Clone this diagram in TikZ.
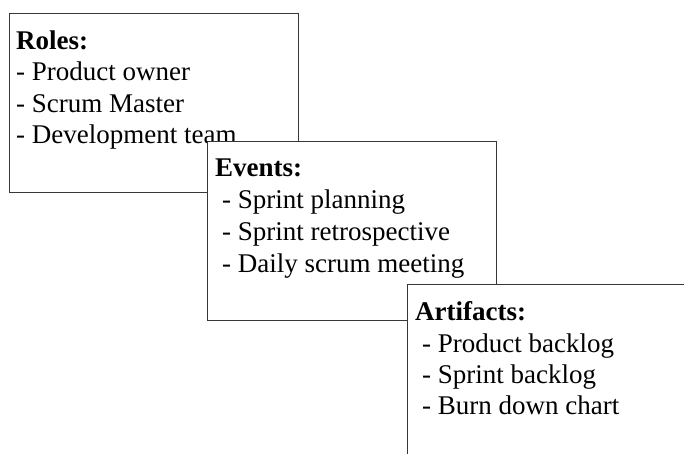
\documentclass[tikz,border=0pt]{standalone}
\usepackage{fontspec}
\setmainfont{Liberation Serif}
\usepackage{xcolor}
\definecolor{frame_gray}{RGB}{55,55,55}
\tikzset{
  card/.style={draw=frame_gray, line width=1.3pt, fill=white, anchor=north west,
    minimum width=289pt, minimum height=179pt, inner sep=0pt},
  head/.style={anchor=base west, inner sep=0pt, font=\fontsize{27}{31}\selectfont\bfseries},
  item/.style={anchor=base west, inner sep=0pt, font=\fontsize{27}{31}\selectfont},
}
\begin{document}
\begin{tikzpicture}[x=1pt, y=-1pt]
\useasboundingbox (0, 0) rectangle (684, 454);
\clip (0, 0) rectangle (684, 454);

% roles
\node [card] (roles) at (9, 13) {};
\node [head] (roles_head) at (16, 50) {Roles:};
\node [item] (roles_a) at (16, 81) {- Product owner};
\node [item] (roles_b) at (16, 113) {- Scrum Master};
\node [item] (roles_c) at (16, 144) {- Development team};

% events
\node [card] (events) at (207, 141) {};
\node [head] (events_head) at (215, 177) {Events:};
\node [item] (events_a) at (222, 208) {- Sprint planning};
\node [item] (events_b) at (222, 240) {- Sprint retrospective};
\node [item] (events_c) at (222, 272) {- Daily scrum meeting};

% artifacts
\node [card] (artifacts) at (407, 284) {};
\node [head] (artifacts_head) at (415, 320) {Artifacts:};
\node [item] (artifacts_a) at (422, 352) {- Product backlog};
\node [item] (artifacts_b) at (422, 383) {- Sprint backlog};
\node [item] (artifacts_c) at (422, 414) {- Burn down chart};

\end{tikzpicture}
\end{document}
